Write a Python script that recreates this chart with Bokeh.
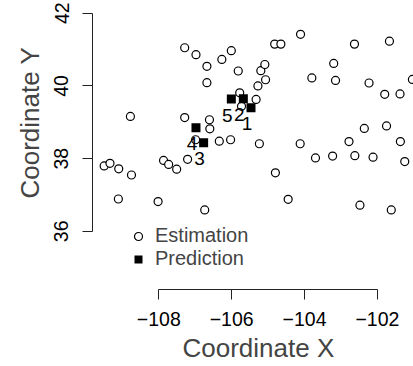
from bokeh.plotting import figure
from bokeh.models import FixedTicker, Legend, LegendItem, Title, Range1d
from bokeh.core.properties import value
from bokeh.embed import file_html
from bokeh.resources import INLINE

# Estimation points (circles)
est_x = [-108.78, -107.29, -106.98, -106.68, -106.27, -106.01, -105.82, -105.20, -105.09, -105.07,
         -105.28, -105.33, -105.78, -106.68, -104.82, -104.65, -104.11, -103.80, -103.20, -103.15,
         -102.63, -101.67, -102.23, -101.80, -101.38, -101.04, -107.29, -106.61, -106.60, -106.99,
         -106.34, -106.03, -105.24, -104.12, -102.78, -102.36, -101.75, -101.37, -109.50, -109.34,
         -109.10, -108.75, -109.11, -108.02, -107.87, -107.73, -107.51, -107.21, -106.74, -104.80,
         -104.45, -103.70, -103.23, -102.62, -102.12, -101.25, -102.48, -101.62, -105.73]
est_y = [39.16, 41.05, 40.86, 40.54, 40.73, 40.97, 40.41, 40.42, 40.59, 40.17,
         40.00, 39.63, 39.81, 40.09, 41.15, 41.15, 41.42, 40.22, 40.62, 40.15,
         41.15, 41.23, 40.08, 39.77, 39.78, 40.18, 39.13, 39.07, 38.82, 38.52,
         38.48, 38.52, 38.41, 38.41, 38.47, 38.83, 38.90, 38.47, 37.80, 37.87,
         37.72, 37.55, 36.89, 36.82, 37.95, 37.84, 37.71, 37.98, 36.59, 37.61,
         36.88, 38.02, 38.07, 38.08, 38.04, 37.92, 36.72, 36.59, 39.44]

# Prediction points (squares) with labels
pred_x = [-105.47, -105.68, -106.77, -106.98, -106.01]
pred_y = [39.40, 39.65, 38.44, 38.85, 39.64]
pred_labels = ["1", "2", "3", "4", "5"]

x_ticks = [-108, -106, -104, -102]
x_tick_labels = ["\u2212108", "\u2212106", "\u2212104", "\u2212102"]
y_ticks = [36, 38, 40, 42]
y_tick_labels = ["36", "38", "40", "42"]

FONT = "Liberation Sans"

p = figure(width=413, height=366, output_backend="svg", toolbar_location=None,
           x_range=Range1d(-109.82, -101.01), y_range=Range1d(34.40, 42.35),
           min_border_left=92, min_border_right=0, min_border_top=0, min_border_bottom=77)
p.grid.visible = False
p.outline_line_color = None
p.background_fill_color = "white"
p.border_fill_color = "white"

for ax, ticks, labels in ((p.xaxis[0], x_ticks, x_tick_labels), (p.yaxis[0], y_ticks, y_tick_labels)):
    ax.ticker = FixedTicker(ticks=ticks)
    ax.major_label_overrides = {t: l for t, l in zip(ticks, labels)}
    ax.bounds = (ticks[0], ticks[-1])
    ax.axis_line_color = "#222222"
    ax.axis_line_width = 1
    ax.major_tick_line_color = "#222222"
    ax.major_tick_line_width = 1
    ax.major_tick_out = 10
    ax.major_tick_in = 0
    ax.minor_tick_line_color = None
    ax.major_label_text_font = FONT
    ax.major_label_text_font_size = "19.5px"
    ax.major_label_text_color = "black"

p.xaxis.major_label_standoff = 12
p.yaxis.major_label_standoff = 14
p.yaxis.major_label_orientation = "vertical"

r_est = p.scatter(est_x, est_y, marker="circle", size=8, fill_color="white",
                  line_color="black", line_width=1.2)
r_pred = p.scatter(pred_x, pred_y, marker="square", size=9, fill_color="black",
                   line_color=None)
p.text(x=pred_x, y=pred_y, text=pred_labels, x_offset=-4, y_offset=16,
       text_align="center", text_baseline="middle", text_font=value(FONT),
       text_font_size=value("19px"), text_color="black")

legend = Legend(items=[LegendItem(label="Estimation", renderers=[r_est]),
                       LegendItem(label="Prediction", renderers=[r_pred])],
                location=(36, 19), padding=0, margin=0, spacing=0,
                glyph_width=20, glyph_height=20, label_standoff=7,
                label_text_font=FONT, label_text_font_size="20px",
                border_line_color=None, background_fill_alpha=0)
p.add_layout(legend)

ty = Title(text="Coordinate Y", align="left", offset=91, text_font=FONT,
           text_font_size="26px", text_font_style="normal", standoff=14)
p.add_layout(ty, "left")
tx = Title(text="Coordinate X", align="left", offset=90, text_font=FONT,
           text_font_size="26px", text_font_style="normal", standoff=4)
p.add_layout(tx, "below")

open("out.html", "w").write(file_html(p, INLINE))
